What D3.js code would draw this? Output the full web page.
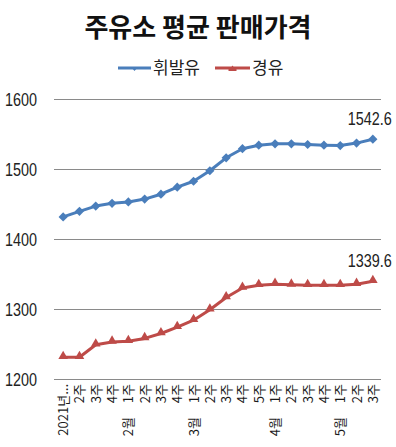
<!DOCTYPE html>
<html>
<head>
<meta charset="utf-8">
<script src="https://cdn.jsdelivr.net/npm/d3@7"></script>
<style>
    body { margin: 0; background: #fff; }
    svg { display: block; }
</style>
</head>
<body>
<div id="chart"></div>
<script>
const title = "주유소 평균 판매가격";
const seriesNames = ["휘발유", "경유"];
const weekLabels = ["2021년...", "2주", "3주", "4주", "1주", "2주", "3주", "4주", "1주", "2주", "3주", "4주", "5주", "1주", "2주", "3주", "4주", "1주", "2주", "3주"];
const monthLabels = ["", "", "", "", "2월", "", "", "", "3월", "", "", "", "", "4월", "", "", "", "5월", "", ""];
const gasoline = [1431.5, 1439.5, 1447, 1451, 1453, 1457, 1464, 1474, 1482.5, 1497.5, 1516, 1529, 1534, 1536, 1536, 1535, 1534, 1533.5, 1537, 1542.6];
const diesel = [1231, 1231, 1249, 1253, 1254, 1258, 1265, 1274, 1284, 1299, 1316.5, 1330, 1334, 1335.5, 1334.5, 1334, 1334, 1334, 1335.5, 1339.6];
const yTicks = [1200, 1300, 1400, 1500, 1600];

const width = 396, height = 447;
const padding = { l: 55, r: 15, t: 99, b: 68 };
const colors = ["#4a7ebb", "#be4b48"];
const numFont = "'Liberation Sans', Arial, sans-serif";
const krFont = "'Noto Sans CJK KR', sans-serif";
const narrow = 0.8; // the numbers in the picture use a condensed face

const svg = d3.select("#chart").append("svg")
    .attr("width", width)
    .attr("height", height);

const x = d3.scalePoint()
    .domain(d3.range(weekLabels.length))
    .range([padding.l, width - padding.r])
    .padding(0.5);

const y = d3.scaleLinear()
    .domain([1200, 1600])
    .range([height - padding.b, padding.t]);

// title
svg.append("text")
    .attr("x", width / 2)
    .attr("y", 37)
    .attr("text-anchor", "middle")
    .style("font-family", krFont)
    .style("font-weight", "bold")
    .style("font-size", "26px")
    .style("fill", "#111")
    .text(title);

// grid + y labels
const plotW = width - padding.r - padding.l + 1;

const yAxis = d3.axisLeft(y)
    .tickValues(yTicks)
    .tickSizeInner(-plotW)
    .tickSizeOuter(0)
    .tickPadding(18)
    .tickFormat(d3.format("d"));

const yg = svg.append("g")
    .attr("transform", `translate(${padding.l - 1}, 0)`)
    .call(yAxis);

yg.select(".domain").remove();
yg.selectAll(".tick line")
    .attr("stroke", "#8a8a8a");
yg.selectAll(".tick text")
    .attr("x", 0)
    .attr("transform", `translate(${37 - padding.l + 1}, 0) scale(${narrow}, 1)`)
    .attr("text-anchor", "end")
    .attr("dy", "0.36em")
    .style("font-family", numFont)
    .style("font-size", "18px")
    .style("fill", "#222");

// x labels
const xAxis = d3.axisBottom(x)
    .tickSize(0)
    .tickFormat(i => weekLabels[i]);

const xg = svg.append("g")
    .attr("transform", `translate(0, ${height - padding.b})`)
    .call(xAxis);

xg.select(".domain").remove();
xg.selectAll(".tick text")
    .attr("transform", "translate(4.5, 5) rotate(-90)")
    .attr("x", 0)
    .attr("y", 0)
    .attr("dy", 0)
    .attr("text-anchor", "end")
    .style("font-family", krFont)
    .style("font-size", "13px")
    .style("fill", "#1a1a1a");

xg.selectAll(".tick")
    .filter(i => monthLabels[i])
    .append("text")
    .attr("transform", "translate(4.5, 38) rotate(-90)")
    .attr("text-anchor", "end")
    .style("font-family", krFont)
    .style("font-size", "13px")
    .style("fill", "#1a1a1a")
    .text(i => monthLabels[i]);

// lines
const line = d3.line()
    .x((d, i) => x(i))
    .y(d => y(d));

const diamond = "M0,-4.6L4.6,0L0,4.6L-4.6,0Z";
const triangle = d3.symbol(d3.symbolTriangle, 40)();

[gasoline, diesel].forEach((values, s) => {
    const g = svg.append("g");

    g.append("path")
        .datum(values)
        .attr("fill", "none")
        .attr("stroke", colors[s])
        .attr("stroke-width", 3)
        .attr("stroke-linejoin", "round")
        .attr("d", line);

    g.selectAll("path.marker")
        .data(values)
        .join("path")
        .attr("class", "marker")
        .attr("transform", (d, i) => `translate(${x(i)}, ${y(d) + (s ? -1 : 0)})`)
        .attr("d", s ? triangle : diamond)
        .attr("fill", colors[s]);

    const last = values.length - 1;
    g.append("text")
        .attr("transform", `translate(${x(last) - 3}, ${y(values[last]) - 14}) scale(${narrow}, 1)`)
        .attr("text-anchor", "middle")
        .style("font-family", numFont)
        .style("font-size", "18px")
        .style("fill", "#222")
        .text(values[last].toFixed(1));
});

// legend
const legend = svg.append("g")
    .attr("transform", "translate(0, 68)");

const legendItems = [
    { name: seriesNames[0], x: 118, w: 33, shape: "M-3.5,-1L3.5,-1L0,3Z" },
    { name: seriesNames[1], x: 215, w: 35, shape: "M-4,1L4,1L4,3L-4,3Z M-2.5,1L0,-2.5L2.5,1Z" }
];

legendItems.forEach((item, s) => {
    legend.append("line")
        .attr("x1", item.x)
        .attr("x2", item.x + item.w)
        .attr("stroke", colors[s])
        .attr("stroke-width", 3);
    legend.append("path")
        .attr("transform", `translate(${item.x + item.w / 2}, 0)`)
        .attr("d", item.shape)
        .attr("fill", colors[s]);
    legend.append("text")
        .attr("x", item.x + item.w + 2)
        .attr("y", 6)
        .style("font-family", krFont)
        .style("font-size", "17px")
        .style("fill", "#222")
        .text(item.name);
});
</script>
</body>
</html>
